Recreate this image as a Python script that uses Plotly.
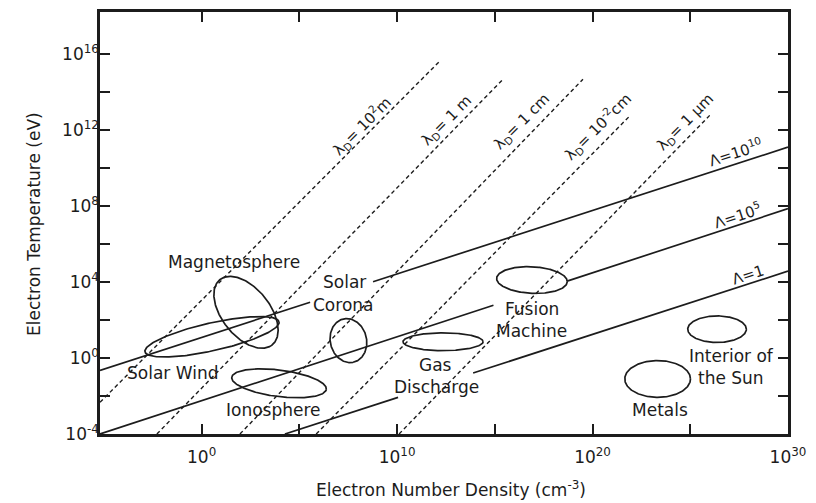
import numpy as np
import plotly.graph_objects as go

# ---------------- data (log10 values) ----------------
# Debye-length lines: end points (log10 n [cm^-3], log10 T [eV])
debye_names = ["10<sup>2</sup>m", "1 m", "1 cm", "10<sup>-2</sup>cm", "1 μm"]
debye_logn = [[-5.2, 12.2], [-2.29, 15.42], [1.96, 19.51], [5.86, 21.9], [10.1, 26.0]]
debye_logT = [[-2.33, 15.66], [-4.0, 14.69], [-4.0, 14.69], [-4.0, 12.75], [-4.0, 12.79]]
debye_label_logn = [8.20, 12.55, 16.4, 20.24, 24.74]
debye_label_logT = [12.26, 12.52, 12.47, 12.21, 12.42]

# Plasma-parameter lines (two segments each, broken where labels sit)
plasma_names = ["Λ=10<sup>10</sup>", "Λ=10<sup>5</sup>", "Λ=1"]
plasma_seg_logn = [[[-5.2, 5.55], [8.77, 30.0]],
                   [[-5.2, 14.93], [18.7, 30.0]],
                   [[4.26, 10.05], [13.89, 30.0]]]
plasma_seg_logT = [[[-0.65, 2.94], [4.02, 11.11]],
                   [[-4.0, 2.78], [4.05, 7.87]],
                   [[-4.0, -2.07], [-0.79, 4.58]]]
plasma_label_logn = [27.3, 27.4, 27.96]
plasma_label_logT = [10.85, 7.56, 4.37]

# Plasma regions (ellipses in log-log space)
region_names = ["Solar Wind", "Magnetosphere", "Solar Corona", "Ionosphere",
                "Gas Discharge", "Fusion Machine", "Interior of the Sun", "Metals"]
region_logn = [0.53, 2.27, 7.51, 3.96, 12.35, 16.9, 26.37, 23.33]
region_logT = [1.12, 2.41, 0.92, -1.33, 0.86, 4.11, 1.52, -1.10]
region_major = [3.52, 2.18, 1.17, 2.44, 2.05, 1.81, 1.50, 1.68]
region_minor = [0.73, 1.24, 0.93, 0.70, 0.47, 0.70, 0.70, 0.97]
region_tilt = [13, -53, -78, -7.5, 0, -3, 0, 0]

# Region labels
label_text = ["Magnetosphere", "Solar Wind", "Ionosphere", "Solar", "Corona", "Gas",
              "Discharge", "Fusion", "Machine", "Interior of", "the Sun", "Metals"]
label_logn = [1.66, -1.51, 3.70, 7.29, 7.24, 11.95, 12.0, 16.9, 16.9, 27.13, 27.1, 23.46]
label_logT = [5.04, -0.81, -2.75, 4.0, 2.80, -0.34, -1.54, 2.59, 1.44, 0.13, -1.05, -2.75]

# Axis ticks
x_tick_exp = [0, 5, 10, 15, 20, 25, 30]
x_label_exp = [0, 10, 20, 30]
y_tick_exp = [-4, -2, 0, 2, 4, 6, 8, 10, 12, 14, 16]
y_label_exp = [-4, 0, 4, 8, 12, 16]

# ---------------- figure ----------------
INK = "#1c1c1c"
FONT = "DejaVu Sans"
fig = go.Figure()

for ln, lT in zip(debye_logn, debye_logT):
    fig.add_trace(go.Scatter(x=10 ** np.array(ln), y=10 ** np.array(lT), mode="lines",
                             line=dict(color=INK, width=1.4, dash="4px,3px"),
                             showlegend=False, hoverinfo="skip"))

for segs_n, segs_T in zip(plasma_seg_logn, plasma_seg_logT):
    for ln, lT in zip(segs_n, segs_T):
        fig.add_trace(go.Scatter(x=10 ** np.array(ln), y=10 ** np.array(lT), mode="lines",
                                 line=dict(color=INK, width=1.7),
                                 showlegend=False, hoverinfo="skip"))

t = np.linspace(0, 2 * np.pi, 240)
for name, cn, cT, a, b, tilt in zip(region_names, region_logn, region_logT,
                                    region_major, region_minor, region_tilt):
    th = np.deg2rad(tilt)
    xn = cn + a * np.cos(t) * np.cos(th) - b * np.sin(t) * np.sin(th)
    yT = cT + a * np.cos(t) * np.sin(th) + b * np.sin(t) * np.cos(th)
    fig.add_trace(go.Scatter(x=10 ** xn, y=10 ** yT, mode="lines", name=name,
                             line=dict(color=INK, width=1.7),
                             showlegend=False, hoverinfo="skip"))

annotations = []
for txt, xn, yT in zip(debye_names, debye_label_logn, debye_label_logT):
    annotations.append(dict(x=xn, y=yT, xref="x", yref="y", text="λ<sub>D</sub>= " + txt,
                            showarrow=False, textangle=-45, xanchor="center", yanchor="middle",
                            font=dict(family=FONT, size=15, color=INK)))
for txt, xn, yT in zip(plasma_names, plasma_label_logn, plasma_label_logT):
    annotations.append(dict(x=xn, y=yT, xref="x", yref="y", text=txt,
                            showarrow=False, textangle=-18, xanchor="center", yanchor="middle",
                            font=dict(family=FONT, size=15, color=INK)))
for txt, xn, yT in zip(label_text, label_logn, label_logT):
    annotations.append(dict(x=xn, y=yT, xref="x", yref="y", text=txt,
                            showarrow=False, xanchor="center", yanchor="middle",
                            font=dict(family=FONT, size=17, color=INK)))

annotations.append(dict(x=0.510, y=-0.13, xref="paper", yref="paper",
                        xanchor="center", yanchor="middle",
                        text="Electron Number Density (cm<sup>-3</sup>)", showarrow=False,
                        font=dict(family=FONT, size=17, color=INK)))
annotations.append(dict(x=-0.095, y=0.497, xref="paper", yref="paper",
                        xanchor="center", yanchor="middle",
                        text="Electron Temperature (eV)", showarrow=False, textangle=-90,
                        font=dict(family=FONT, size=17, color=INK)))

axis_common = dict(showgrid=False, zeroline=False, showline=True, linecolor=INK,
                   linewidth=2.5, mirror="ticks", ticks="inside", ticklen=10,
                   tickwidth=2, tickcolor=INK,
                   tickfont=dict(family=FONT, size=17, color=INK))

fig.update_layout(
    width=816, height=503,
    margin=dict(l=100, r=28, t=9, b=69),
    paper_bgcolor="white", plot_bgcolor="white",
    annotations=annotations,
    xaxis=dict(type="log", range=[-5.2, 30],
               tickvals=[10.0 ** e for e in x_tick_exp],
               ticktext=[("10<sup>%d</sup>" % e) if e in x_label_exp else "" for e in x_tick_exp],
               ticklabelstandoff=6, **axis_common),
    yaxis=dict(type="log", range=[-4, 18.23],
               tickvals=[10.0 ** e for e in y_tick_exp],
               ticktext=[("10<sup>%d</sup>" % e) if e in y_label_exp else "" for e in y_tick_exp],
               ticklabelstandoff=-5, **axis_common),
)

fig.write_html("out.html")
